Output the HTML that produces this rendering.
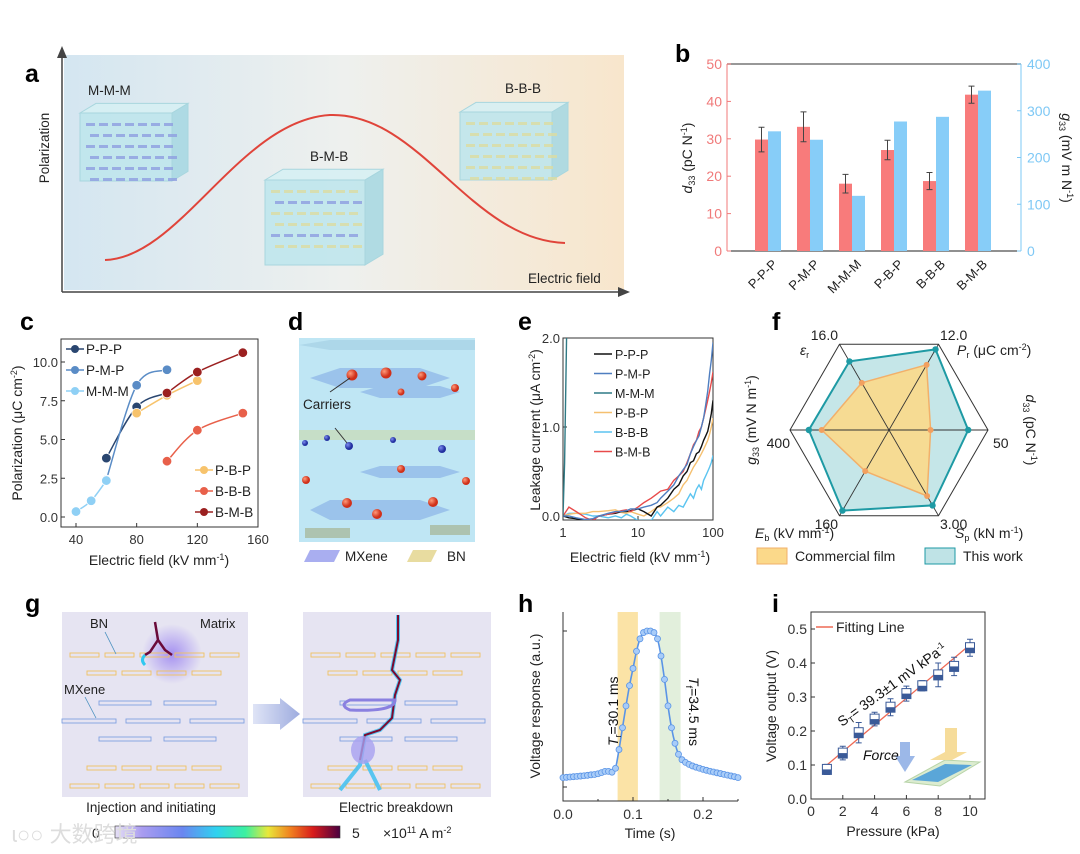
<!DOCTYPE html>
<html><head><meta charset="utf-8"><style>
html,body{margin:0;padding:0;background:#fff;width:1080px;height:854px;overflow:hidden}
svg{display:block;font-family:"Liberation Sans",Arial,sans-serif}
.lbl{font-weight:bold;font-size:25px;fill:#000}
.tk{font-size:13px;fill:#333}
.tt{font-size:13.5px;fill:#222}
</style></head><body>
<svg id="fig" xmlns="http://www.w3.org/2000/svg" width="1080" height="854" viewBox="0 0 1080 854">
<defs>
<linearGradient id="abg" x1="0" x2="1" y1="0" y2="0"><stop offset="0" stop-color="#d4e6f1"/><stop offset="0.5" stop-color="#eef0ee"/><stop offset="1" stop-color="#f8e6cc"/></linearGradient>
<linearGradient id="cbar" x1="0" x2="1"><stop offset="0" stop-color="#e6e0f5"/><stop offset="0.12" stop-color="#a99cf0"/><stop offset="0.3" stop-color="#6a86f0"/><stop offset="0.45" stop-color="#2fd2f0"/><stop offset="0.58" stop-color="#3cf0a0"/><stop offset="0.68" stop-color="#e8e83a"/><stop offset="0.78" stop-color="#f08020"/><stop offset="0.88" stop-color="#d81c1c"/><stop offset="1" stop-color="#4a0040"/></linearGradient>
<linearGradient id="arrg" x1="0" x2="1"><stop offset="0" stop-color="#dfe4f6"/><stop offset="1" stop-color="#9eacdf"/></linearGradient>
<radialGradient id="glow"><stop offset="0" stop-color="#8a6ef0" stop-opacity="0.7"/><stop offset="1" stop-color="#8a6ef0" stop-opacity="0"/></radialGradient>
<radialGradient id="rb" cx="0.35" cy="0.35"><stop offset="0" stop-color="#ff9a7a"/><stop offset="1" stop-color="#d0301a"/></radialGradient>
<radialGradient id="bb" cx="0.35" cy="0.35"><stop offset="0" stop-color="#7d8cf0"/><stop offset="1" stop-color="#2230a0"/></radialGradient>
</defs>
<rect width="1080" height="854" fill="#fff"/>

<!-- Panel a -->
<g>
<text class="lbl" x="25" y="82">a</text>
<rect x="64" y="55" width="560" height="235" fill="url(#abg)"/>
<line x1="62" y1="292" x2="62" y2="55" stroke="#444" stroke-width="1.5"/>
<polygon points="57,58 62,46 67,58" fill="#444"/>
<line x1="62" y1="292" x2="620" y2="292" stroke="#444" stroke-width="1.5"/>
<polygon points="618,287 630,292 618,297" fill="#444"/>
<text class="tt" transform="translate(49,148) rotate(-90)" text-anchor="middle">Polarization</text>
<text class="tt" x="528" y="283">Electric field</text>
<path d="M105,260 C180,258 240,120 330,115 C420,112 470,240 565,243" fill="none" stroke="#e0443a" stroke-width="2"/>
<g id="cubes"></g>
<text class="tt" x="88" y="95">M-M-M</text>
<text class="tt" x="310" y="161">B-M-B</text>
<text class="tt" x="505" y="93">B-B-B</text>
</g>

<!-- Panel b -->
<g id="pb">
<text class="lbl" x="675" y="62">b</text>
</g>

<!-- Panel c -->
<g id="pc">
<text class="lbl" x="20" y="330">c</text>
</g>

<!-- Panel d -->
<g>
<text class="lbl" x="288" y="330">d</text>
<rect x="299" y="338" width="176" height="204" fill="#bfe6f4"/>
<g opacity="0.75">
<polygon points="310,378 340,368 420,368 450,378 420,388 340,388" fill="#8fb8e8"/>
<polygon points="360,392 380,386 440,386 460,392 440,398 380,398" fill="#8fb8e8"/>
<polygon points="299,430 475,430 475,440 299,440" fill="#c9dcb8"/>
<polygon points="360,472 380,466 440,466 460,472 440,478 380,478" fill="#8fb8e8"/>
<polygon points="310,510 330,500 420,500 450,510 420,520 330,520" fill="#8fb8e8"/>
<polygon points="299,345 330,340 475,340 475,350 330,350" fill="#a8d2e6"/>
<polygon points="305,528 350,528 350,538 305,538" fill="#a8b89a"/>
<polygon points="430,525 470,525 470,535 430,535" fill="#a8b89a"/>
</g>
<g>
<circle cx="352" cy="375" r="5.5" fill="url(#rb)"/><circle cx="386" cy="373" r="5.5" fill="url(#rb)"/><circle cx="422" cy="376" r="4.5" fill="url(#rb)"/><circle cx="401" cy="392" r="3.5" fill="url(#rb)"/><circle cx="455" cy="388" r="4" fill="url(#rb)"/>
<circle cx="305" cy="443" r="3" fill="url(#bb)"/><circle cx="327" cy="438" r="3" fill="url(#bb)"/><circle cx="349" cy="446" r="4" fill="url(#bb)"/><circle cx="393" cy="440" r="3" fill="url(#bb)"/><circle cx="442" cy="449" r="4" fill="url(#bb)"/>
<circle cx="401" cy="469" r="4" fill="url(#rb)"/><circle cx="306" cy="480" r="4" fill="url(#rb)"/><circle cx="466" cy="481" r="4" fill="url(#rb)"/><circle cx="347" cy="503" r="5" fill="url(#rb)"/><circle cx="377" cy="514" r="5" fill="url(#rb)"/><circle cx="433" cy="502" r="5" fill="url(#rb)"/>
</g>
<line x1="330" y1="392" x2="350" y2="378" stroke="#333"/>
<line x1="335" y1="428" x2="347" y2="443" stroke="#333"/>
<text class="tt" x="303" y="409">Carriers</text>
<polygon points="310,550 340,550 334,562 304,562" fill="#a9aef0"/>
<text class="tt" x="345" y="561">MXene</text>
<polygon points="413,550 437,550 431,562 407,562" fill="#e8dca0"/>
<text class="tt" x="447" y="561">BN</text>
</g>

<!-- Panel e -->
<g id="pe">
<text class="lbl" x="518" y="330">e</text>
</g>

<!-- Panel f -->
<g id="pf">
<text class="lbl" x="772" y="330">f</text>
</g>

<!-- Panel g -->
<g>
<text class="lbl" x="25" y="612">g</text>
<rect x="62" y="612" width="186" height="185" fill="#e6e4f2"/>
<rect x="303" y="612" width="188" height="185" fill="#e6e4f2"/>
<circle cx="172" cy="654" r="30" fill="url(#glow)"/>
<g id="gflakes"></g>
<path d="M155,622 L158,640 L150,652 L145,655 M158,640 L165,650 L172,655" fill="none" stroke="#6a0a3a" stroke-width="2.5"/>
<path d="M145,655 Q140,660 145,665" fill="none" stroke="#30c8f0" stroke-width="3"/>
<path d="M398,615 L398,640 L395,655 L392,670 L400,680 L395,695 L392,718 L380,730 L365,735 L360,765 L340,790 M365,760 L380,790" fill="none" stroke="#40c0f0" stroke-width="4" opacity="0.85"/>
<path d="M398,615 L398,640 L395,655 L392,670 L400,680 L395,695 L392,718 L380,730 L365,735 L360,760" fill="none" stroke="#7a0a30" stroke-width="2"/>
<ellipse cx="363" cy="750" rx="12" ry="14" fill="#a8a0f0" opacity="0.8"/>
<path d="M395,700 Q395,712 350,710 Q338,705 350,700 Z" fill="none" stroke="#8a80e0" stroke-width="3"/>
<text x="90" y="628" font-size="13" fill="#222">BN</text>
<text x="200" y="628" font-size="13" fill="#222">Matrix</text>
<text x="64" y="694" font-size="13" fill="#222">MXene</text>
<line x1="105" y1="632" x2="116" y2="654" stroke="#4a90c0" stroke-width="0.8"/>
<line x1="85" y1="697" x2="96" y2="718" stroke="#4a90c0" stroke-width="0.8"/>
<polygon points="253,704 280,704 280,698 300,714 280,730 280,724 253,724" fill="url(#arrg)"/>
<text x="151" y="812" font-size="13.5" fill="#222" text-anchor="middle">Injection and initiating</text>
<text x="396" y="812" font-size="13.5" fill="#222" text-anchor="middle">Electric breakdown</text>
<rect x="115" y="826" width="225" height="12" fill="url(#cbar)" stroke="#333" stroke-width="0.6"/>
<text x="92" y="838" font-size="14" fill="#222">0</text>
<text x="352" y="838" font-size="14" fill="#222">5</text>
<text x="383" y="838" font-size="14" fill="#222">×10<tspan font-size="9" dy="-5">11</tspan><tspan dy="5"> A m</tspan><tspan font-size="9" dy="-5">-2</tspan></text>
<text x="12" y="842" font-size="22" fill="#ddd" font-family="'Liberation Sans','Noto Sans CJK SC',sans-serif">ɩ○○ 大数跨境</text>
</g>

<!-- Panel h -->
<g id="ph">
<text class="lbl" x="518" y="612">h</text>
</g>

<!-- Panel i -->
<g id="pi">
<text class="lbl" x="772" y="612">i</text>
</g>
</svg>
<script>
// ---------- Data ----------
const bCategories = ['P-P-P','P-M-P','M-M-M','P-B-P','B-B-B','B-M-B'];
const bD33 = [29.8,33.2,18.0,27.0,18.7,41.8];
const bD33Err = [3.3,4.0,2.5,2.6,2.3,2.3];
const bG33 = [256,238,118,277,287,343];

const cNames = ['P-P-P','P-M-P','M-M-M','P-B-P','B-B-B','B-M-B'];
const cFields = [[60,80,100],[60,80,100],[40,50,60],[80,100,120],[100,120,150],[100,120,150]];
const cPol = [[3.8,7.1,8.0],[2.4,8.5,9.5],[0.35,1.05,2.35],[6.7,7.85,8.8],[3.6,5.6,6.7],[8.0,9.35,10.6]];
const cTicksX = [40,80,120,160];
const cTicksY = [0,2.5,5,7.5,10];

const eNames = ['P-P-P','P-M-P','M-M-M','P-B-P','B-B-B','B-M-B'];
const eFields = [1,1.2,1.5,2,2.5,3,4,5,6,7,8,10,12,15,18,20,25,30,35,40,45,50,55,60,65,70,75,80,85,90,95,100];
const ePPP = [0,-0.02,-0.03,-0.05,-0.04,0,0.02,0.03,0.05,0.05,0.06,0.08,0.05,0.0,0.1,0.12,0.2,0.3,0.35,0.45,0.5,0.6,0.62,0.7,0.72,0.78,0.85,0.9,0.95,1.05,1.15,1.3];
const ePMP = [0,0,-0.02,-0.04,-0.03,0,0.03,0.05,0.05,0.06,0.08,0.08,0.1,0.12,0.15,0.2,0.28,0.35,0.45,0.52,0.58,0.7,0.78,0.85,0.9,1.0,1.1,1.25,1.4,1.6,1.75,1.95];
const eMMMFields = [1,1.05,1.12];
const eMMM = [0,0.6,2.1];
const ePBP = [0,0.02,0.03,0.03,0.05,0.05,0.06,0.07,0.04,0.03,0.05,0.02,0.0,0.05,0.1,0.1,0.15,0.2,0.25,0.35,0.4,0.48,0.55,0.6,0.65,0.7,0.75,0.8,0.85,0.92,1.0,1.1];
const eBBB = [0,0.03,0.03,0.02,0.0,0.0,-0.02,0.0,-0.02,0.02,0,-0.05,-0.05,-0.05,0.05,0.0,0.1,0.05,0.12,0.1,0.18,0.25,0.2,0.3,0.35,0.3,0.4,0.45,0.5,0.55,0.6,0.68];
const eBMB = [0,0.1,0.05,-0.02,-0.05,0,0.02,0.04,0.06,0.07,0.05,0.1,0.15,0.2,0.25,0.28,0.3,0.4,0.45,0.5,0.6,0.7,0.8,0.85,0.95,1.0,1.1,1.2,1.3,1.4,1.5,1.62];

const fAxes = ['εr','Pr','d33','Sp','Eb','g33'];
const fMaxLabels = ['16.0','12.0','50','3.00','160','400'];
const fThisWork = [0.80,0.94,0.80,0.88,0.94,0.81];
const fCommercial = [0.55,0.76,0.42,0.77,0.48,0.68];

const hTimes = [0,0.005,0.01,0.015,0.02,0.025,0.03,0.035,0.04,0.045,0.05,0.055,0.06,0.065,0.07,0.075,0.08,0.085,0.09,0.095,0.1,0.105,0.11,0.115,0.12,0.125,0.13,0.135,0.14,0.145,0.15,0.155,0.16,0.165,0.17,0.175,0.18,0.185,0.19,0.195,0.2,0.205,0.21,0.215,0.22,0.225,0.23,0.235,0.24,0.245,0.25];
const hVoltage = [0.06,0.062,0.064,0.066,0.068,0.07,0.072,0.075,0.078,0.08,0.085,0.092,0.1,0.1,0.095,0.12,0.24,0.38,0.52,0.65,0.76,0.87,0.95,0.99,1.0,1.0,0.99,0.95,0.84,0.69,0.52,0.38,0.28,0.21,0.175,0.158,0.145,0.135,0.127,0.12,0.113,0.107,0.101,0.096,0.091,0.086,0.081,0.076,0.071,0.066,0.06];
const hRiseBand = [0.078,0.107];
const hFallBand = [0.138,0.168];

const iPressure = [1,2,3,4,5,6,7,8,9,10];
const iVoltage = [0.087,0.135,0.195,0.235,0.27,0.31,0.333,0.365,0.39,0.445];
const iErr = [0.015,0.02,0.03,0.02,0.025,0.022,0.015,0.035,0.027,0.025];
const iFit = [0.0393,0.0607];

// ---------- helpers ----------
const NS='http://www.w3.org/2000/svg';
function mk(parent,tag,attrs,text){const e=document.createElementNS(NS,tag);for(const k in attrs)e.setAttribute(k,attrs[k]);if(text!==undefined)e.textContent=text;parent.appendChild(e);return e;}
function smooth(pts){if(pts.length<3){return 'M'+pts.map(p=>p.join(',')).join(' L');}
 let d='M'+pts[0][0]+','+pts[0][1];for(let i=0;i<pts.length-1;i++){const p0=pts[i-1]||pts[i],p1=pts[i],p2=pts[i+1],p3=pts[i+2]||p2;
 const c1=[p1[0]+(p2[0]-p0[0])/6,p1[1]+(p2[1]-p0[1])/6],c2=[p2[0]-(p3[0]-p1[0])/6,p2[1]-(p3[1]-p1[1])/6];d+=` C${c1} ${c2} ${p2}`;}return d;}

// ---------- cubes (illustration) ----------
const cg=document.getElementById('cubes');
function cube(x,y,w,h,d,flake){
 const g=mk(cg,'g',{});
 mk(g,'polygon',{points:`${x},${y} ${x+d},${y-d*0.6} ${x+w+d},${y-d*0.6} ${x+w},${y}`,fill:'#d6eff3',stroke:'#a8d6de','fill-opacity':0.9});
 mk(g,'polygon',{points:`${x+w},${y} ${x+w+d},${y-d*0.6} ${x+w+d},${y+h-d*0.6} ${x+w},${y+h}`,fill:'#a9d8e2',stroke:'#a8d6de','fill-opacity':0.9});
 mk(g,'rect',{x:x,y:y,width:w,height:h,fill:'#bfe5ec',stroke:'#a8d6de','fill-opacity':0.9});
 for(let r=0;r<6;r++)for(let c=0;c<7;c++){mk(g,'rect',{x:x+6+c*13+(r%2)*4,y:y+10+r*11,width:9,height:3,fill:flake[r%flake.length],opacity:0.8});}
 return g;}
const c1=cube(80,113,92,68,16,['#8d9de0']);

const c2=cube(265,180,100,85,18,['#dcdca0','#8d9de0','#dcdca0']);

const c3=cube(460,112,92,68,16,['#dcdca0']);


// ---------- g flakes (illustration) ----------
const gf=document.getElementById('gflakes');
function flakesRow(x0,y,n,w,gap,col){for(let i=0;i<n;i++)mk(gf,'rect',{x:x0+i*(w+gap),y:y,width:w,height:4,fill:'none',stroke:col,'stroke-width':0.9});}
[[62,0],[303,0]].forEach(([ox])=>{
 flakesRow(ox+8,653,5,29,6,'#f0c060');flakesRow(ox+25,671,4,29,6,'#f0c060');
 flakesRow(ox+37,701,2,52,13,'#80a0e0');flakesRow(ox+0,719,3,54,10,'#80a0e0');flakesRow(ox+37,737,2,52,13,'#80a0e0');
 flakesRow(ox+25,766,4,29,6,'#f0c060');flakesRow(ox+8,784,5,29,6,'#f0c060');});

// ---------- Panel b ----------
(function(){
 const g=document.getElementById('pb');
 const L=727,R=1021,T=64,B=251;
 const yl=v=>B-(v/50)*(B-T), yr=v=>B-(v/400)*(B-T);
 const cx=i=>768+i*42;
 mk(g,'line',{x1:L,y1:T,x2:R,y2:T,stroke:'#777','stroke-width':1.5});
 mk(g,'line',{x1:L,y1:T,x2:L,y2:B,stroke:'#f07a7a','stroke-width':1});
 mk(g,'line',{x1:R,y1:T,x2:R,y2:B,stroke:'#7ec8f5','stroke-width':1});
 mk(g,'line',{x1:L,y1:B,x2:R,y2:B,stroke:'#222','stroke-width':1});
 [0,10,20,30,40,50].forEach(v=>{const t=mk(g,'text',{x:L-5,y:yl(v)+5,'text-anchor':'end','font-size':14,fill:'#f07a7a'},String(v));
 
 
 mk(g,'line',{x1:L,y1:yl(v),x2:L+4,y2:yl(v),stroke:'#f07a7a'});});
 [0,100,200,300,400].forEach(v=>{const t=mk(g,'text',{x:R+6,y:yr(v)+5,'font-size':14,fill:'#7ec8f5'},String(v));
 
 
 mk(g,'line',{x1:R-4,y1:yr(v),x2:R,y2:yr(v),stroke:'#7ec8f5'});});
 bCategories.forEach((c,i)=>{
  const r=mk(g,'rect',{x:cx(i)-13,y:yl(bD33[i]),width:13,height:B-yl(bD33[i]),fill:'#f87b7b'});
  
  
  const b=mk(g,'rect',{x:cx(i),y:yr(bG33[i]),width:13,height:B-yr(bG33[i]),fill:'#87cdf8'});
  
  
  const ex=cx(i)-6.5,e1=yl(bD33[i]+bD33Err[i]),e2=yl(bD33[i]-bD33Err[i]);
  mk(g,'path',{d:`M${ex},${e1}V${e2}M${ex-3},${e1}H${ex+3}M${ex-3},${e2}H${ex+3}`,stroke:'#444',fill:'none'});
  const t=mk(g,'text',{transform:`translate(${cx(i)+10},${B+14}) rotate(-45)`,'text-anchor':'end','font-size':13,fill:'#222'},c);
  
  
 });
 const yt=mk(g,'text',{transform:`translate(692,158) rotate(-90)`,'text-anchor':'middle','font-size':14,fill:'#222'});
 yt.innerHTML='<tspan font-style="italic">d</tspan><tspan font-size="9" dy="3">33</tspan><tspan dy="-3"> (pC N</tspan><tspan font-size="9" dy="-5">-1</tspan><tspan dy="5">)</tspan>';
 
 
 const yt2=mk(g,'text',{transform:`translate(1062,158) rotate(90)`,'text-anchor':'middle','font-size':14,fill:'#222'});
 yt2.innerHTML='<tspan font-style="italic">g</tspan><tspan font-size="9" dy="3">33</tspan><tspan dy="-3"> (mV m N</tspan><tspan font-size="9" dy="-5">-1</tspan><tspan dy="5">)</tspan>';
 
 
})();

// ---------- Panel c ----------
(function(){
 const g=document.getElementById('pc');
 const L=61,R=258,T=339,B=527;
 const x=v=>76+(v-40)*(182/120), y=v=>517-v*15.5;
 mk(g,'rect',{x:L,y:T,width:R-L,height:B-T,fill:'none',stroke:'#333'});
 cTicksX.forEach(v=>{mk(g,'line',{x1:x(v),y1:B,x2:x(v),y2:B-4,stroke:'#333'});
  const t=mk(g,'text',{x:x(v),y:B+17,'text-anchor':'middle',class:'tk','font-size':14},String(v));
  
  });
 cTicksY.forEach(v=>{mk(g,'line',{x1:L,y1:y(v),x2:L+4,y2:y(v),stroke:'#333'});
  const t=mk(g,'text',{x:L-3,y:y(v)+5,'text-anchor':'end',class:'tk','font-size':14},v.toFixed(1));
  
  });
 const cols=['#2a4670','#5a8cc6','#8fd0f5','#f7c36c','#e8604a','#9b2020'];
 cNames.forEach((n,s)=>{
  const pts=cFields[s].map((f,i)=>[x(f),y(cPol[s][i])]);
  const p=mk(g,'path',{d:smooth(pts),fill:'none',stroke:cols[s],'stroke-width':1.5});
  
  
  pts.forEach(q=>{const c=mk(g,'circle',{cx:q[0],cy:q[1],r:4.8,fill:cols[s],stroke:'#fff','stroke-width':0.8});
   
   });
 });
 const leg=[[0,66,349],[1,66,370],[2,66,391],[3,195,470],[4,195,491],[5,195,512]];
 leg.forEach(([s,lx,ly])=>{mk(g,'line',{x1:lx,y1:ly,x2:lx+18,y2:ly,stroke:cols[s],'stroke-width':1.5});
  mk(g,'circle',{cx:lx+9,cy:ly,r:4,fill:cols[s]});
  const t=mk(g,'text',{x:lx+20,y:ly+5,'font-size':13.5,fill:'#222'},cNames[s]);
  
  });
 const yt=mk(g,'text',{transform:'translate(22,433) rotate(-90)','text-anchor':'middle','font-size':14,fill:'#222'});
 yt.innerHTML='Polarization (μC cm<tspan font-size="9" dy="-5">-2</tspan><tspan dy="5">)</tspan>';
 
 
 const xt=mk(g,'text',{x:159,y:565,'text-anchor':'middle','font-size':14,fill:'#222'});
 xt.innerHTML='Electric field (kV mm<tspan font-size="9" dy="-5">-1</tspan><tspan dy="5">)</tspan>';
 
 
})();

// ---------- Panel e ----------
(function(){
 const g=document.getElementById('pe');
 const L=563,R=713,T=338,B=520;
 const x=v=>L+Math.log10(v)/2*(R-L), y=v=>516-v*89;
 const clip=mk(g,'clipPath',{id:'eclip'});mk(clip,'rect',{x:L,y:T,width:R-L,height:B-T});
 mk(g,'rect',{x:L,y:T,width:R-L,height:B-T,fill:'none',stroke:'#333'});
 [1,10,100].forEach(v=>{mk(g,'line',{x1:x(v),y1:B,x2:x(v),y2:B-4,stroke:'#333'});
  const t=mk(g,'text',{x:x(v),y:B+17,'text-anchor':'middle',class:'tk'},String(v));
  
  });
 [0,1,2].forEach(v=>{mk(g,'line',{x1:L,y1:y(v),x2:L+4,y2:y(v),stroke:'#333'});
  const t=mk(g,'text',{x:L-3,y:y(v)+5,'text-anchor':'end',class:'tk'},v.toFixed(1));
  
  });
 const cols=['#111','#4f7ec0','#2f7a85','#f5c070','#5bc4f0','#e84a4a'];
 const series=[ePPP,ePMP,eMMM,ePBP,eBBB,eBMB];
 const order=[4,3,0,5,1,2];
 order.forEach(s=>{const xs=s===2?eMMMFields:eFields;
  const d='M'+xs.map((f,i)=>x(f).toFixed(1)+','+y(series[s][i]).toFixed(1)).join(' L');
  const p=mk(g,'path',{d:d,fill:'none',stroke:cols[s],'stroke-width':1.4,'clip-path':'url(#eclip)'});
  
  });
 eNames.forEach((n,s)=>{const ly=354+s*19.5;mk(g,'line',{x1:594,y1:ly,x2:612,y2:ly,stroke:cols[s],'stroke-width':1.6});
  const t=mk(g,'text',{x:615,y:ly+5,'font-size':12.5,fill:'#222'},n);
  
  });
 const yt=mk(g,'text',{transform:'translate(540,430) rotate(-90)','text-anchor':'middle','font-size':14,fill:'#222'});
 yt.innerHTML='Leakage current (μA cm<tspan font-size="9" dy="-5">-2</tspan><tspan dy="5">)</tspan>';
 
 
 const xt=mk(g,'text',{x:640,y:562,'text-anchor':'middle','font-size':14,fill:'#222'});
 xt.innerHTML='Electric field (kV mm<tspan font-size="9" dy="-5">-1</tspan><tspan dy="5">)</tspan>';
 
 
})();

// ---------- Panel f ----------
(function(){
 const g=document.getElementById('pf');
 const cx=889,cy=430,Rr=99;
 const ang=[240,300,0,60,120,180].map(a=>a*Math.PI/180);
 const pt=(k,f)=>[cx+Math.cos(ang[k])*Rr*f,cy+Math.sin(ang[k])*Rr*f];
 const poly=f=>fAxes.map((a,k)=>pt(k,typeof f==='number'?f:f[k]).map(v=>v.toFixed(1)).join(',')).join(' ');
 const tw=mk(g,'polygon',{points:poly(fThisWork),fill:'#bfe3e6',stroke:'#1e9aa4','stroke-width':2,'fill-opacity':0.9});
 
 
 const cm=mk(g,'polygon',{points:poly(fCommercial),fill:'#fbd98a',stroke:'#f2b06a','stroke-width':1.5,'fill-opacity':0.9});
 
 
 mk(g,'polygon',{points:poly(1),fill:'none',stroke:'#333','stroke-width':1});
 for(let k=0;k<3;k++){const a=pt(k,1),b=pt(k+3,1);mk(g,'line',{x1:a[0],y1:a[1],x2:b[0],y2:b[1],stroke:'#333','stroke-width':0.9});}
 fAxes.forEach((a,k)=>{const p=pt(k,fThisWork[k]);mk(g,'circle',{cx:p[0],cy:p[1],r:3.2,fill:'#1e9aa4'});
  const q=pt(k,fCommercial[k]);mk(g,'circle',{cx:q[0],cy:q[1],r:3,fill:'#f2a060'});});
 const ml=[[838,340,'end'],[940,340,'start'],[993,448,'start'],[940,529,'start'],[838,529,'end'],[790,448,'end']];
 fMaxLabels.forEach((s,k)=>{const t=mk(g,'text',{x:ml[k][0],y:ml[k][1],'text-anchor':ml[k][2],'font-size':14,fill:'#222'},s);
  
  });
 const names=[[800,355,'<tspan font-style="italic">ε</tspan><tspan font-size="9" dy="3">r</tspan>'],
  [957,355,'<tspan font-style="italic">P</tspan><tspan font-size="9" dy="3">r</tspan><tspan dy="-3"> (μC cm</tspan><tspan font-size="9" dy="-5">-2</tspan><tspan dy="5">)</tspan>'],
  [755,538,'<tspan font-style="italic">E</tspan><tspan font-size="9" dy="3">b</tspan><tspan dy="-3"> (kV mm</tspan><tspan font-size="9" dy="-5">-1</tspan><tspan dy="5">)</tspan>'],
  [955,538,'<tspan font-style="italic">S</tspan><tspan font-size="9" dy="3">p</tspan><tspan dy="-3"> (kN m</tspan><tspan font-size="9" dy="-5">-1</tspan><tspan dy="5">)</tspan>']];
 names.forEach(n=>{const t=mk(g,'text',{x:n[0],y:n[1],'font-size':14,fill:'#222'});t.innerHTML=n[2];
  
  });
 const g33=mk(g,'text',{transform:'translate(756,420) rotate(-90)','text-anchor':'middle','font-size':14,fill:'#222'});
 g33.innerHTML='<tspan font-style="italic">g</tspan><tspan font-size="9" dy="3">33</tspan><tspan dy="-3"> (mV N m</tspan><tspan font-size="9" dy="-5">-1</tspan><tspan dy="5">)</tspan>';
 
 
 const d33=mk(g,'text',{transform:'translate(1026,430) rotate(90)','text-anchor':'middle','font-size':14,fill:'#222'});
 d33.innerHTML='<tspan font-style="italic">d</tspan><tspan font-size="9" dy="3">33</tspan><tspan dy="-3"> (pC N</tspan><tspan font-size="9" dy="-5">-1</tspan><tspan dy="5">)</tspan>';
 
 
 mk(g,'rect',{x:757,y:548,width:30,height:16,fill:'#fbd98a',stroke:'#f2b06a'});
 const l1=mk(g,'text',{x:795,y:561,'font-size':14,fill:'#222'},'Commercial film');
 
 
 mk(g,'rect',{x:925,y:548,width:30,height:16,fill:'#bfe3e6',stroke:'#1e9aa4'});
 const l2=mk(g,'text',{x:963,y:561,'font-size':14,fill:'#222'},'This work');
 
 
})();

// ---------- Panel h ----------
(function(){
 const g=document.getElementById('ph');
 const L=563,R=738,T=612,B=801;
 const x=v=>L+v*700, y=v=>787-v*156;
 const rb=mk(g,'rect',{x:x(hRiseBand[0]),y:T,width:x(hRiseBand[1])-x(hRiseBand[0]),height:B-T,fill:'#fbe3a6'});
 
 
 const fb=mk(g,'rect',{x:x(hFallBand[0]),y:T,width:x(hFallBand[1])-x(hFallBand[0]),height:B-T,fill:'#e2efdc'});
 
 
 mk(g,'path',{d:`M${L},${T}V${B}H${R}`,fill:'none',stroke:'#333'});
 [0,0.1,0.2].forEach(v=>{mk(g,'line',{x1:x(v),y1:B,x2:x(v),y2:B-4,stroke:'#333'});
  const t=mk(g,'text',{x:x(v),y:B+18,'text-anchor':'middle','font-size':14,fill:'#333'},v.toFixed(1));
  
  });
 [0.05,0.15,0.25].forEach(v=>mk(g,'line',{x1:x(v),y1:B,x2:x(v),y2:B-2,stroke:'#333'}));
 [0,1].forEach(v=>mk(g,'line',{x1:L,y1:y(v),x2:L+4,y2:y(v),stroke:'#333'}));
 const pts=hTimes.map((t,i)=>[x(t),y(hVoltage[i])]);
 const p=mk(g,'path',{d:smooth(pts),fill:'none',stroke:'#5a94e6','stroke-width':1.6});
 
 
 pts.forEach(q=>{const c=mk(g,'circle',{cx:q[0],cy:q[1],r:3,fill:'#a8ccf8',stroke:'#5a94e6','stroke-width':0.8});
  
  });
 const t1=mk(g,'text',{transform:'translate(618,746) rotate(-90)','font-size':14,fill:'#111'});
 t1.innerHTML='<tspan font-style="italic">T</tspan><tspan font-size="9" dy="3">r</tspan><tspan dy="-3">=30.1 ms</tspan>';
 
 
 const t2=mk(g,'text',{transform:'translate(689,677) rotate(90)','font-size':14,fill:'#111'});
 t2.innerHTML='<tspan font-style="italic">T</tspan><tspan font-size="9" dy="3">f</tspan><tspan dy="-3">=34.5 ms</tspan>';
 
 
 const yt=mk(g,'text',{transform:'translate(540,706) rotate(-90)','text-anchor':'middle','font-size':14,fill:'#222'},'Voltage response (a.u.)');
 
 
 const xt=mk(g,'text',{x:650,y:838,'text-anchor':'middle','font-size':14,fill:'#222'},'Time (s)');
 
 
})();

// ---------- Panel i ----------
(function(){
 const g=document.getElementById('pi');
 const L=811,R=985,T=612,B=799;
 const x=v=>L+v*15.9, y=v=>B-v*340;
 mk(g,'polygon',{points:'905,782 945,760 980,762 940,786',fill:'#dcecd0',stroke:'#b8d4a8'});
 mk(g,'polygon',{points:'912,780 945,764 972,765 938,782',fill:'#5aa6d8'});
 mk(g,'rect',{x:945,y:728,width:12,height:28,fill:'#f6dc9a'});
 mk(g,'polygon',{points:'930,760 945,752 967,752 952,760',fill:'#f6dc9a'});
 mk(g,'polygon',{points:'900,742 910,742 910,756 915,756 905,772 895,756 900,756',fill:'#9cb8e8'});
 const fo=mk(g,'text',{x:863,y:760,'font-size':14,'font-style':'italic',fill:'#111'},'Force');
 
 
 mk(g,'rect',{x:L,y:T,width:R-L,height:B-T,fill:'none',stroke:'#333'});
 [0,2,4,6,8,10].forEach(v=>{mk(g,'line',{x1:x(v),y1:B,x2:x(v),y2:B-4,stroke:'#333'});
  const t=mk(g,'text',{x:x(v),y:B+17,'text-anchor':'middle','font-size':14,fill:'#333'},String(v));
  
  });
 [0,0.1,0.2,0.3,0.4,0.5].forEach(v=>{mk(g,'line',{x1:L,y1:y(v),x2:L+4,y2:y(v),stroke:'#333'});
  const t=mk(g,'text',{x:L-4,y:y(v)+5,'text-anchor':'end','font-size':14,fill:'#333'},v.toFixed(1));
  
  });
 const fl=mk(g,'line',{x1:x(1),y1:y(iFit[0]*1+iFit[1]),x2:x(10),y2:y(iFit[0]*10+iFit[1]),stroke:'#ee6a55','stroke-width':1.3});
 
 
 iPressure.forEach((p,i)=>{const cxp=x(p),cyp=y(iVoltage[i]),e1=y(iVoltage[i]+iErr[i]),e2=y(iVoltage[i]-iErr[i]);
  mk(g,'path',{d:`M${cxp},${e1}V${e2}M${cxp-3},${e1}H${cxp+3}M${cxp-3},${e2}H${cxp+3}`,stroke:'#3a5a98',fill:'none'});
  const b=mk(g,'rect',{x:cxp-4.5,y:cyp-5,width:9,height:10,fill:'#fff',stroke:'#3a5a98','stroke-width':1});
  
  
  mk(g,'rect',{x:cxp-4.5,y:cyp,width:9,height:5,fill:'#3a5a98'});});
 mk(g,'line',{x1:816,y1:627,x2:833,y2:627,stroke:'#ee6a55','stroke-width':1.6});
 const lg=mk(g,'text',{x:836,y:632,'font-size':14,fill:'#222'},'Fitting Line');
 
 
 const st=mk(g,'text',{transform:'translate(842,727) rotate(-36)','font-size':14,fill:'#111'});
 st.innerHTML='S<tspan font-size="9" dy="3">T</tspan><tspan dy="-3">= 39.3±1 mV kPa</tspan><tspan font-size="9" dy="-5">-1</tspan>';
 
 
 const yt=mk(g,'text',{transform:'translate(776,706) rotate(-90)','text-anchor':'middle','font-size':14,fill:'#222'},'Voltage output (V)');
 
 
 const xt=mk(g,'text',{x:893,y:836,'text-anchor':'middle','font-size':14,fill:'#222'},'Pressure (kPa)');
 
 
})();
</script>
</body></html>
